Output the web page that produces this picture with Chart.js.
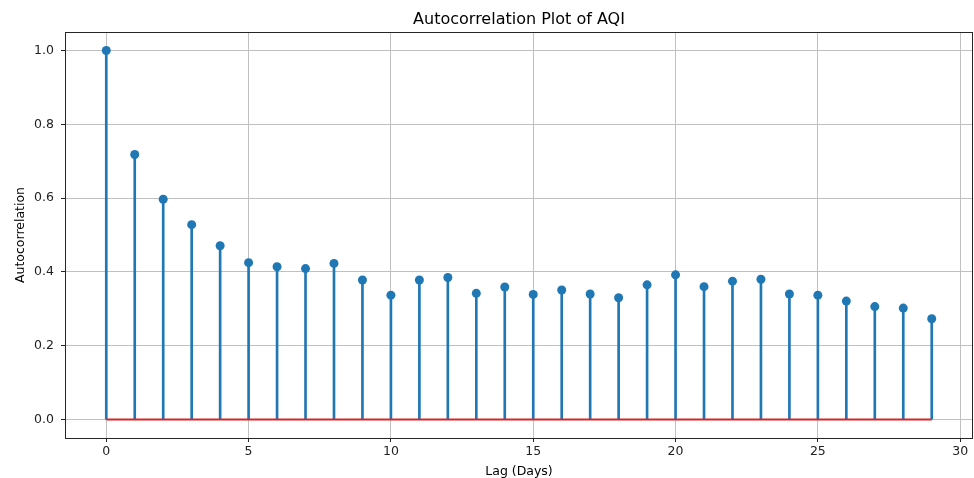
<!DOCTYPE html>
<html>
<head>
<meta charset="utf-8">
<script src="https://cdn.jsdelivr.net/npm/chart.js@4.4.1/dist/chart.umd.min.js"></script>
<style>
  html, body { margin: 0; padding: 0; background: #fff; }
  #wrap { width: 974px; height: 478px; }
</style>
</head>
<body>
<div id="wrap"><canvas id="c" width="974" height="478"></canvas></div>
<script>
// ---- data ----
const lags = [0,1,2,3,4,5,6,7,8,9,10,11,12,13,14,15,16,17,18,19,20,21,22,23,24,25,26,27,28,29];
const acf = [1.000,0.718,0.597,0.528,0.471,0.425,0.414,0.409,0.423,0.378,0.337,0.378,0.385,0.342,0.359,0.339,0.351,0.340,0.330,0.365,0.392,0.360,0.375,0.380,0.340,0.337,0.321,0.306,0.302,0.273];
const xTickValues = [0,5,10,15,20,25,30];
const yTickValues = [0.0,0.2,0.4,0.6,0.8,1.0];
const titleText = 'Autocorrelation Plot of AQI';
const xLabel = 'Lag (Days)';
const yLabel = 'Autocorrelation';

const points = lags.map((l, i) => ({ x: l, y: acf[i] }));
const baseline = [{ x: lags[0], y: 0 }, { x: lags[lags.length - 1], y: 0 }];

const FONT = "'DejaVu Sans', sans-serif";

const framePlugin = {
  id: 'frame',
  afterDraw(chart) {
    const { ctx, chartArea: a } = chart;
    ctx.save();
    ctx.strokeStyle = '#262626';
    ctx.lineWidth = 1;
    ctx.strokeRect(Math.round(a.left) + 0.5, Math.round(a.top) + 0.5,
                   Math.round(a.right - a.left) - 1, Math.round(a.bottom - a.top));
    ctx.restore();
  }
};

new Chart(document.getElementById('c'), {
  type: 'bar',
  data: {
    datasets: [
      {
        type: 'scatter',
        data: points,
        backgroundColor: '#1f77b4',
        borderColor: '#1f77b4',
        pointRadius: 4.5,
        pointBorderWidth: 0,
        order: 0
      },
      {
        type: 'line',
        data: baseline,
        borderColor: '#d62728',
        borderWidth: 2,
        pointRadius: 0,
        fill: false,
        order: 1
      },
      {
        type: 'bar',
        data: points,
        backgroundColor: '#1f77b4',
        barThickness: 2,
        grouped: false,
        order: 2
      }
    ]
  },
  options: {
    responsive: false,
    animation: false,
    devicePixelRatio: 1,
    layout: { autoPadding: false, padding: { left: 0, right: 1, top: 0, bottom: 0 } },
    plugins: {
      legend: { display: false },
      tooltip: { enabled: false },
      title: {
        display: true,
        text: titleText,
        fullSize: false,
        color: '#000',
        font: { family: FONT, size: 16, weight: 'normal', lineHeight: 1.2 },
        padding: { top: 10, bottom: 2.8 }
      }
    },
    scales: {
      x: {
        type: 'linear',
        min: -1.45,
        max: 30.45,
        offset: false,
        afterFit(s) { s.height = 40; },
        afterBuildTicks(s) { s.ticks = xTickValues.map(v => ({ value: v })); },
        border: { display: false },
        grid: { offset: false, color: '#c0c0c0', lineWidth: 1, tickLength: 4, tickColor: '#262626', drawTicks: true },
        ticks: {
          color: '#222',
          padding: 2,
          maxRotation: 0,
          font: { family: FONT, size: 12.5 },
          callback: v => String(v)
        },
        title: {
          display: true,
          text: xLabel,
          color: '#000',
          font: { family: FONT, size: 12.5, lineHeight: 1.0 },
          padding: { top: 0, bottom: 0 }
        }
      },
      y: {
        type: 'linear',
        min: -0.05,
        max: 1.05,
        afterFit(s) { s.width = 65; },
        afterBuildTicks(s) { s.ticks = yTickValues.map(v => ({ value: v })); },
        border: { display: false },
        grid: { color: '#c0c0c0', lineWidth: 1, tickLength: 4, tickColor: '#262626', drawTicks: true },
        ticks: {
          color: '#222',
          padding: 7,
          font: { family: FONT, size: 12.5 },
          callback: v => Number(v).toFixed(1)
        },
        title: {
          display: true,
          text: yLabel,
          color: '#000',
          font: { family: FONT, size: 12.5, lineHeight: 1.2 },
          padding: { top: 13, bottom: 0 }
        }
      }
    }
  },
  plugins: [framePlugin]
});
</script>
</body>
</html>
